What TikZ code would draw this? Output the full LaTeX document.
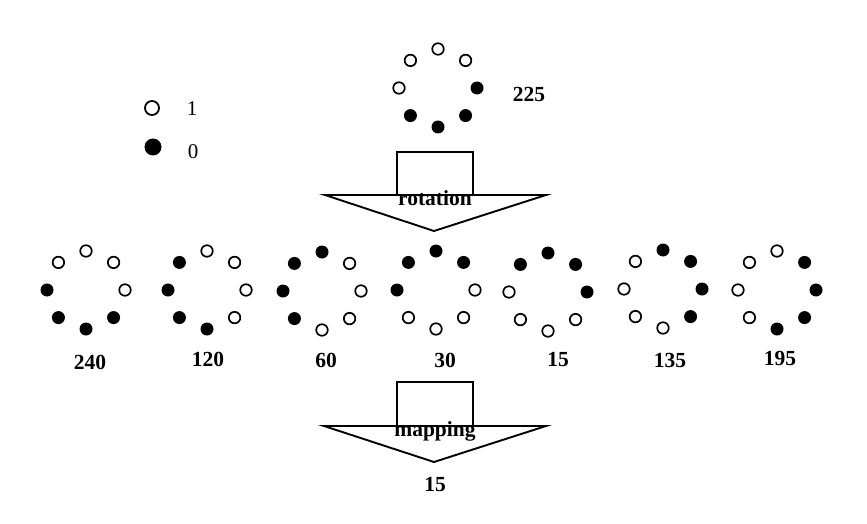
\documentclass[tikz,border=0pt]{standalone}
\usepackage{fontspec}
\setmainfont{Liberation Serif}
\usetikzlibrary{calc}
\tikzset{
  odot/.style={circle,draw=black,fill=white,line width=1.7pt,minimum size=11.5pt,inner sep=0pt},
  fdot/.style={circle,fill=black,minimum size=13pt,inner sep=0pt},
  lodot/.style={circle,draw=black,fill=white,line width=1.8pt,minimum size=14pt,inner sep=0pt},
  lfdot/.style={circle,fill=black,minimum size=17pt,inner sep=0pt},
  numlab/.style={inner sep=0pt,anchor=base,font=\bfseries\fontsize{21.5}{25}\selectfont},
  leglab/.style={inner sep=0pt,anchor=base,font=\fontsize{21}{24}\selectfont},
  arrline/.style={line width=1.9pt,line join=miter},
  baseline/.style={line width=2.6pt},
}
\newcommand\ringpat[4]{%
  \coordinate (#1) at (#2,#3);
  \foreach \ang [count=\i] in {225,270,315,0,45,90,135,180}{
    \pgfmathtruncatemacro\bit{{#4}[\i-1]}
    \ifnum\bit=1 \def\sty{odot}\else\def\sty{fdot}\fi
    \node[\sty] (#1-\i) at ($(#1)+(\ang:39)$) {};
  }%
}
\begin{document}
\begin{tikzpicture}[x=1pt,y=-1pt]
\useasboundingbox (0,0) rectangle (867,524);
% legend
\node[lodot] (leg1) at (152,108) {};
\node[leglab] (leg1t) at (192,116) {1};
\node[lfdot] (leg0) at (153,147) {};
\node[leglab] (leg0t) at (193,158) {0};
% top pattern
\ringpat{p225}{438}{88}{1,1,1,0,0,0,0,1}
\node[numlab] (l225) at (529,102) {225};
% rotation arrow
\coordinate (r1) at (325,195);
\coordinate (r2) at (546,195);
\coordinate (r3) at (434,231);
\coordinate (rb1) at (397,195);
\coordinate (rb2) at (473,195);
\coordinate (rt) at (435,152);
\draw[arrline] (rb1) |- (rt) -| (rb2);
\draw[arrline] (r1) -- (r2) -- (r3) -- cycle;
\draw[baseline] (r1) -- (r2);
\node[numlab] (rot) at (435,205.5) {rotation};
% row patterns
\ringpat{p240}{86}{290}{1,1,1,1,0,0,0,0}
\ringpat{p120}{207}{290}{0,1,1,1,1,0,0,0}
\ringpat{p60}{322}{291}{0,0,1,1,1,1,0,0}
\ringpat{p30}{436}{290}{0,0,0,1,1,1,1,0}
\ringpat{p15}{548}{292}{0,0,0,0,1,1,1,1}
\ringpat{p135}{663}{289}{1,0,0,0,0,1,1,1}
\ringpat{p195}{777}{290}{1,1,0,0,0,0,1,1}
\node[numlab] (l240) at (90,369) {240};
\node[numlab] (l120) at (208,366) {120};
\node[numlab] (l60) at (326,367) {60};
\node[numlab] (l30) at (445,367) {30};
\node[numlab] (l15) at (558,366.5) {15};
\node[numlab] (l135) at (670,367) {135};
\node[numlab] (l195) at (780,365) {195};
% mapping arrow
\coordinate (m1) at (324,426);
\coordinate (m2) at (546,426);
\coordinate (m3) at (434,462);
\coordinate (mb1) at (397,426);
\coordinate (mb2) at (473,426);
\coordinate (mt) at (435,382);
\draw[arrline] (mb1) |- (mt) -| (mb2);
\draw[arrline] (m1) -- (m2) -- (m3) -- cycle;
\draw[baseline] (m1) -- (m2);
\node[numlab] (map) at (435,436.5) {mapping};
\node[numlab] (res) at (435,491) {15};
\end{tikzpicture}
\end{document}
